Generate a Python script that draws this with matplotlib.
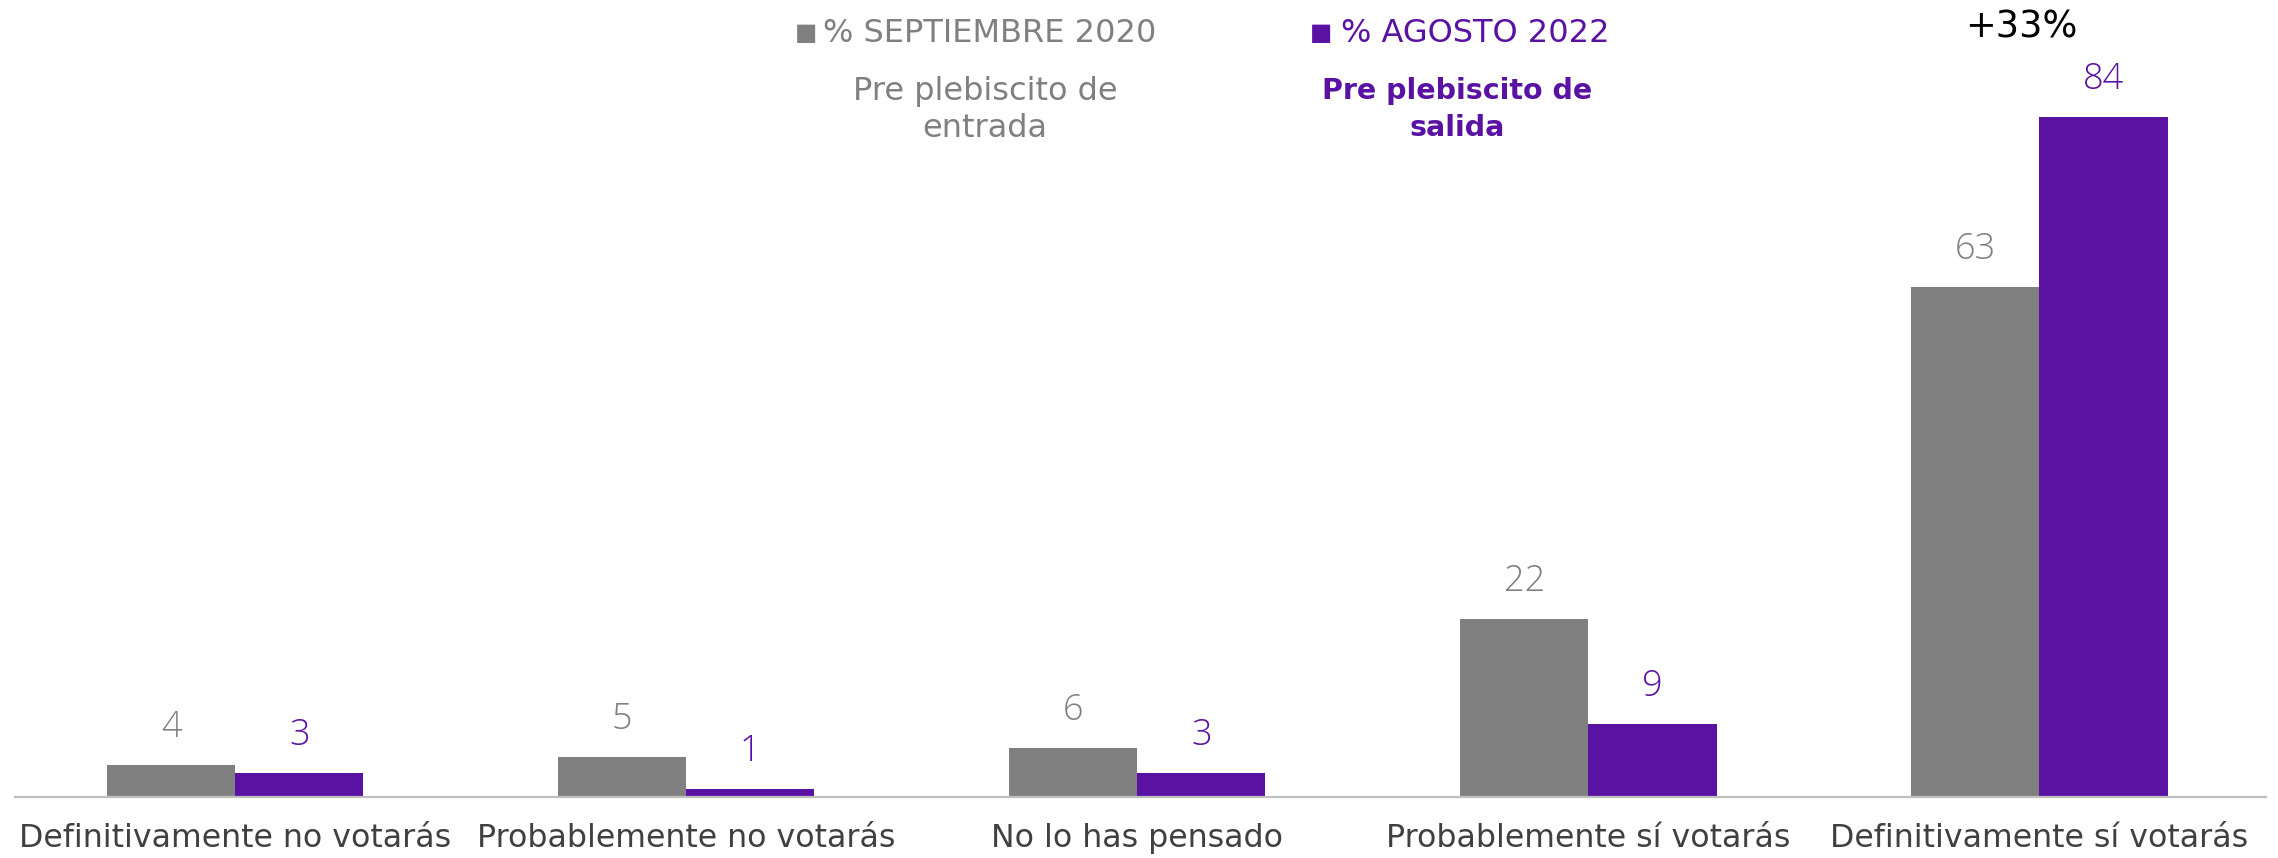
import numpy as np
import matplotlib
matplotlib.use("Agg")
import matplotlib.pyplot as plt

# datos
categorias = ["Definitivamente no votarás", "Probablemente no votarás",
              "No lo has pensado", "Probablemente sí votarás",
              "Definitivamente sí votarás"]
sep_2020 = [4, 5, 6, 22, 63]
ago_2022 = [3, 1, 3, 9, 84]
serie_nombres = ["% SEPTIEMBRE 2020", "% AGOSTO 2022"]
subtitulos = ["Pre plebiscito de\nentrada", "Pre plebiscito de\nsalida"]
nota = "+33%"

GRIS = "#808080"
MORADO = "#5A12A3"

plt.rcParams["font.family"] = ["DejaVu Sans"]

fig = plt.figure(figsize=(22.78, 8.58), dpi=100)
ax = fig.add_axes([0.0066, 0.071, 0.9883, 0.929])

x = np.arange(len(categorias))
w = 0.284
b1 = ax.bar(x - w / 2, sep_2020, w, color=GRIS)
b2 = ax.bar(x + w / 2, ago_2022, w, color=MORADO)

for bars, vals, col in [(b1, sep_2020, GRIS), (b2, ago_2022, MORADO)]:
    for r, v in zip(bars, vals):
        ax.annotate(str(v), (r.get_x() + r.get_width() / 2, v),
                    xytext=(0, 27), textcoords="offset points",
                    ha="center", va="center", color=col,
                    fontsize=26, fontweight="light", family=["Open Sans"])

ax.set_xlim(-0.488, 4.503)
ax.set_ylim(0, 98.4)
ax.set_yticks([])
ax.set_xticks(x)
ax.set_xticklabels(categorias, fontsize=22.8, color="#404040")
ax.tick_params(axis="x", length=0, pad=19)
for s in ["top", "right", "left"]:
    ax.spines[s].set_visible(False)
ax.spines["bottom"].set_color("#BFBFBF")
ax.spines["bottom"].set_linewidth(1.6)

# leyenda y subtitulos
fig.text(0.354, 0.961, "■", color=GRIS, fontsize=17, ha="center", va="center")
fig.text(0.3615, 0.961, serie_nombres[0], color=GRIS, fontsize=23, ha="left",
         va="center")
fig.text(0.580, 0.961, "■", color=MORADO, fontsize=17, ha="center", va="center")
fig.text(0.5885, 0.961, serie_nombres[1], color=MORADO, fontsize=23, ha="left",
         va="center")
fig.text(0.4325, 0.872, subtitulos[0], color=GRIS, fontsize=23, ha="center",
         va="center", linespacing=1.25)
fig.text(0.6395, 0.872, subtitulos[1], color=MORADO, fontsize=20.5, ha="center",
         va="center", fontweight="bold", linespacing=1.4)
fig.text(0.8875, 0.968, nota, color="black", fontsize=26.5, ha="center",
         va="center")

fig.savefig("out.png", dpi=100)
